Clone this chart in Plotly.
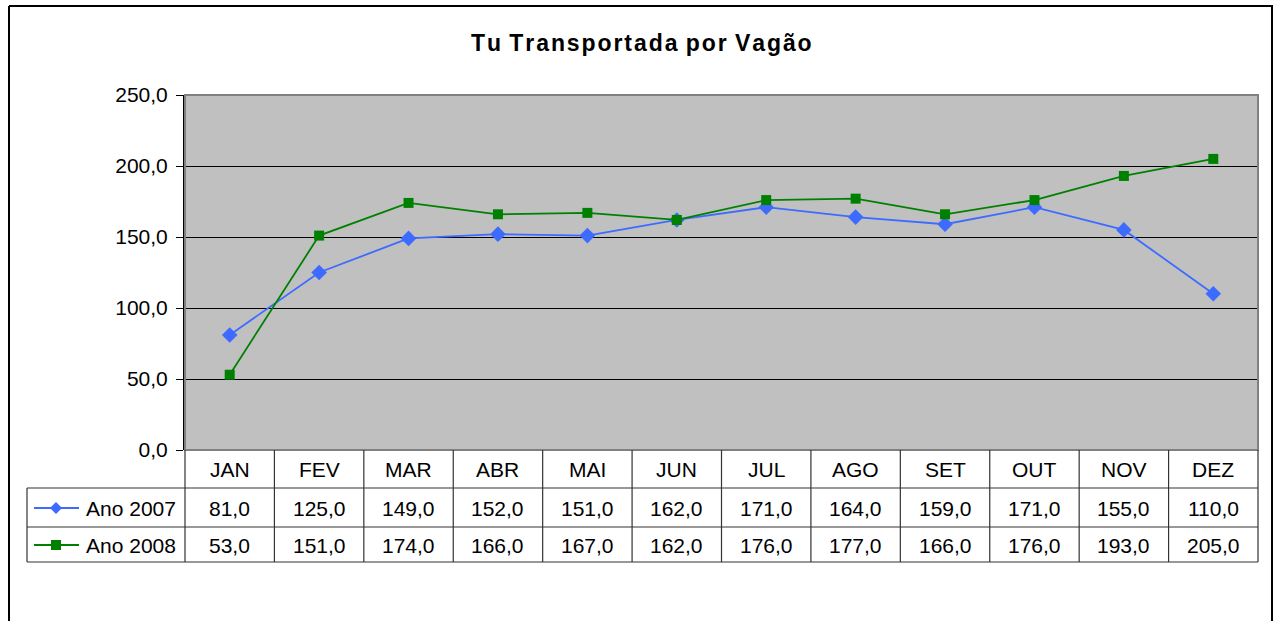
import plotly.graph_objects as go

months = ["JAN", "FEV", "MAR", "ABR", "MAI", "JUN", "JUL", "AGO", "SET", "OUT", "NOV", "DEZ"]
ano_2007 = [81.0, 125.0, 149.0, 152.0, 151.0, 162.0, 171.0, 164.0, 159.0, 171.0, 155.0, 110.0]
ano_2008 = [53.0, 151.0, 174.0, 166.0, 167.0, 162.0, 176.0, 177.0, 166.0, 176.0, 193.0, 205.0]
series_names = ["Ano 2007", "Ano 2008"]
title_text = "Tu Transportada por Vagão"

BLUE = "#3D6BFF"
GREEN = "#008000"
FONT = "Liberation Sans, Arial, sans-serif"
FS = 21

W, H = 1276, 621
L, R, T, B = 185, 1258, 95, 450
PW, PH = R - L, B - T


def px(x):
    return (x - L) / PW


def py(y):
    return (B - y) / PH


def fmt(v):
    return f"{v:.1f}".replace(".", ",")


xs = list(range(len(months)))

fig = go.Figure()
fig.add_trace(go.Scatter(x=xs, y=ano_2007, mode="lines+markers", name=series_names[0],
                         line=dict(color=BLUE, width=1.8),
                         marker=dict(symbol="diamond", size=12, color=BLUE)))
fig.add_trace(go.Scatter(x=xs, y=ano_2008, mode="lines+markers", name=series_names[1],
                         line=dict(color=GREEN, width=1.8),
                         marker=dict(symbol="square", size=10, color=GREEN)))

shapes = []
annotations = []

# outer frame (drawn as separate lines)
frame_line = dict(color="black", width=2)
shapes.append(dict(type="line", xref="paper", yref="paper", x0=px(9), x1=px(1273), y0=py(6), y1=py(6),
                   line=frame_line))
shapes.append(dict(type="line", xref="paper", yref="paper", x0=px(9), x1=px(9), y0=py(6), y1=py(640),
                   line=frame_line))
shapes.append(dict(type="line", xref="paper", yref="paper", x0=px(1272), x1=px(1272), y0=py(6), y1=py(640),
                   line=frame_line))
# plot area border
shapes.append(dict(type="rect", xref="paper", yref="paper", x0=0, x1=1, y0=0, y1=1,
                   line=dict(color="#808080", width=2), layer="above"))

col_w = PW / len(months)
row_ys = [450, 488, 527, 562]
# vertical lines of table
for k in range(len(months) + 1):
    x = L + k * col_w
    shapes.append(dict(type="line", xref="paper", yref="paper", x0=px(x), x1=px(x), y0=py(450), y1=py(562),
                       line=dict(color="#333333", width=1.2)))
# left border of legend column
shapes.append(dict(type="line", xref="paper", yref="paper", x0=px(27), x1=px(27), y0=py(488), y1=py(562),
                   line=dict(color="#333333", width=1.2)))
# horizontal lines
for y in row_ys[1:]:
    shapes.append(dict(type="line", xref="paper", yref="paper", x0=px(27), x1=px(R), y0=py(y), y1=py(y),
                       line=dict(color="#333333", width=1.2)))

# month labels
for k, m in enumerate(months):
    cx = L + (k + 0.5) * col_w
    annotations.append(dict(x=px(cx), y=py(469), xref="paper", yref="paper", text=m, showarrow=False,
                            font=dict(family=FONT, size=FS, color="black"), xanchor="center", yanchor="middle"))

# values rows
for r, (vals, yc) in enumerate([(ano_2007, 508), (ano_2008, 545)]):
    for k, v in enumerate(vals):
        cx = L + (k + 0.5) * col_w
        annotations.append(dict(x=px(cx), y=py(yc), xref="paper", yref="paper", text=fmt(v), showarrow=False,
                                font=dict(family=FONT, size=FS, color="black"), xanchor="center", yanchor="middle"))

# legend keys in table
for name, color, sym, yc in [(series_names[0], BLUE, "diamond", 508), (series_names[1], GREEN, "square", 545)]:
    shapes.append(dict(type="line", xref="paper", yref="paper", x0=px(34), x1=px(79), y0=py(yc), y1=py(yc),
                       line=dict(color=color, width=1.8)))
    mx = 56
    if sym == "diamond":
        d = 6
        path = (f"M {px(mx)} {py(yc - d)} L {px(mx + d)} {py(yc)} L {px(mx)} {py(yc + d)} "
                f"L {px(mx - d)} {py(yc)} Z")
        shapes.append(dict(type="path", xref="paper", yref="paper", path=path,
                           fillcolor=color, line=dict(color=color, width=0)))
    else:
        d = 5
        shapes.append(dict(type="rect", xref="paper", yref="paper", x0=px(mx - d), x1=px(mx + d),
                           y0=py(yc + d), y1=py(yc - d), fillcolor=color, line=dict(color=color, width=0)))
    annotations.append(dict(x=px(84), y=py(yc), xref="paper", yref="paper", text=name, showarrow=False,
                            font=dict(family=FONT, size=FS, color="black"), xanchor="left", yanchor="middle"))

# title
annotations.append(dict(x=px(641), y=py(43), xref="paper", yref="paper",
                        text="<b>" + "\u200a".join(list(title_text)).replace("\u200a \u200a", " \u200a") + "</b>",
                        showarrow=False, font=dict(family=FONT, size=23, color="black"),
                        xanchor="center", yanchor="middle"))

fig.update_layout(
    width=W, height=H,
    margin=dict(l=L, r=W - R, t=T, b=H - B, pad=0),
    paper_bgcolor="white",
    plot_bgcolor="#C0C0C0",
    showlegend=False,
    separators=",.",
    shapes=shapes,
    annotations=annotations,
    xaxis=dict(range=[-0.5, len(months) - 0.5], showticklabels=False, showgrid=False, zeroline=False,
               ticks="", fixedrange=True),
    yaxis=dict(range=[0, 250], dtick=50, tickformat=".1f", showgrid=True, gridcolor="black", gridwidth=1,
               zeroline=False, showline=True, linecolor="black", linewidth=2, ticks="outside", ticklen=7,
               tickcolor="black", ticklabelstandoff=4,
               tickfont=dict(family=FONT, size=FS, color="black")),
)

fig.write_html("out.html", config={"displayModeBar": False},
               post_script="document.body.style.margin='0';document.body.style.overflow='hidden';")
